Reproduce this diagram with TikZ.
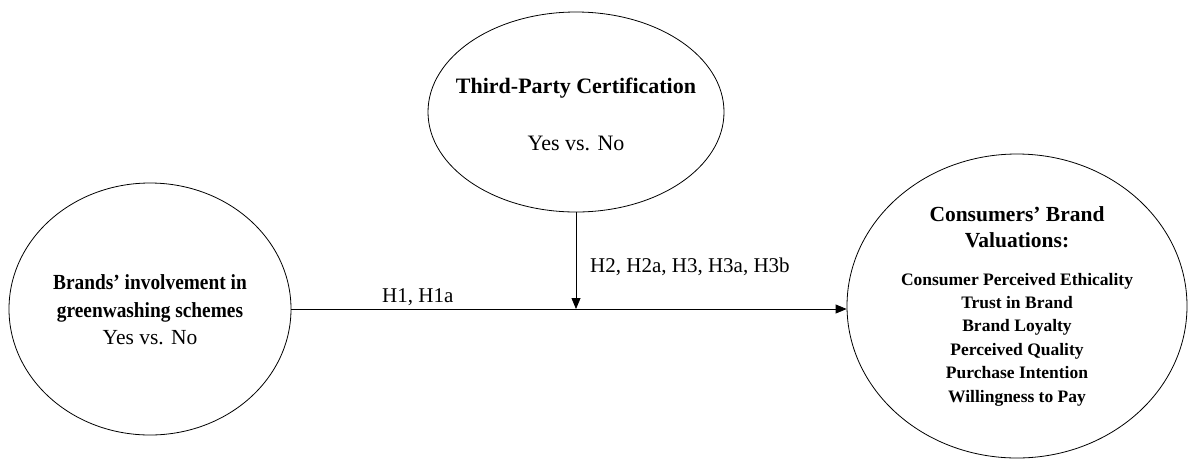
\documentclass[tikz,border=0pt]{standalone}
\usepackage{fontspec}
\setmainfont{Liberation Serif}
\newfontfamily\condserif[FakeStretch=0.9]{Liberation Serif}
\usetikzlibrary{shapes.geometric,arrows.meta}
\tikzset{
  ell/.style={draw, ellipse, line width=0.8pt, inner sep=0pt},
  txt/.style={inner sep=0pt, align=center},
  conn/.style={line width=0.8pt, -{Triangle[length=11pt,width=9pt]}},
  lbl/.style={inner sep=0pt, anchor=base west, font=\fontsize{21}{25}\selectfont}
}
\begin{document}
\begin{tikzpicture}[x=1pt,y=-1pt]
\useasboundingbox (0,0) rectangle (1188,459);
% ellipses
\node[ell, minimum width=282pt, minimum height=252pt] (brand) at (150,309) {};
\node[ell, minimum width=296pt, minimum height=200pt] (cert) at (576,112) {};
\node[ell, minimum width=340pt, minimum height=304pt] (valu) at (1017,306) {};
% texts
\node[txt, font=\fontsize{21.5}{27.5}\selectfont] (brandtxt) at (150,310)
  {{\condserif\bfseries Brands’ involvement in}\\{\condserif\bfseries greenwashing schemes}\\Yes vs. No};
\node[txt, font=\fontsize{22}{27.5}\selectfont] (certtxt) at (576,114)
  {\textbf{Third-Party Certification}\\[29.5pt]Yes vs. No};
\node[txt, font=\bfseries\fontsize{21.5}{26}\selectfont] (valuhead) at (1017,227.5)
  {Consumers’ Brand\\Valuations:};
\node[txt, font=\bfseries\fontsize{17.5}{23.4}\selectfont] (valuitems) at (1017,339.5)
  {Consumer Perceived Ethicality\\Trust in Brand\\Brand Loyalty\\Perceived Quality\\Purchase Intention\\Willingness to Pay};
% connectors
\coordinate (meet) at (cert.south |- brand.east);
\draw[conn] (brand.east) -- (brand.east -| valu.west);
\draw[conn] (cert.south) -- (meet);
% labels
\node[lbl] (h1) at (382,302) {H1, H1a};
\node[lbl] (h2) at (590,272) {H2, H2a, H3, H3a, H3b};
\end{tikzpicture}
\end{document}
